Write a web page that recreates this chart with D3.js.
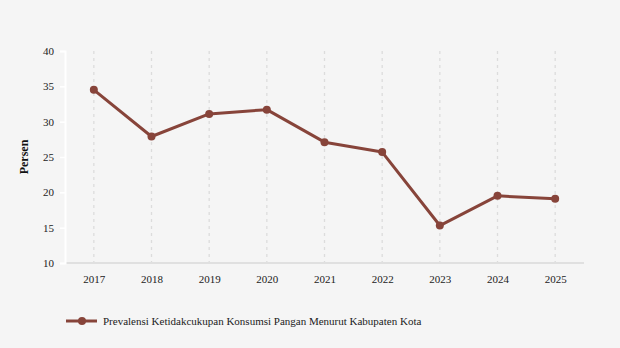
<!DOCTYPE html>
<html>
<head>
<meta charset="utf-8">
<script src="https://cdn.jsdelivr.net/npm/d3@7"></script>
<style>
  html, body { margin: 0; padding: 0; background: #f5f5f5; }
  svg { display: block; }
  text { font-family: "Liberation Serif", "Times New Roman", serif; }
</style>
</head>
<body>
<svg id="chart" width="620" height="348"></svg>
<script>
const years = ["2017", "2018", "2019", "2020", "2021", "2022", "2023", "2024", "2025"];
const values = [34.5, 27.9, 31.1, 31.7, 27.1, 25.7, 15.3, 19.5, 19.1];
const yTicks = [10, 15, 20, 25, 30, 35, 40];
const seriesName = "Prevalensi Ketidakcukupan Konsumsi Pangan Menurut Kabupaten Kota";

const color = "#87443a";
const svg = d3.select("#chart");
svg.append("rect").attr("width", 620).attr("height", 348).attr("fill", "#f5f5f5");

const margin = { left: 65, right: 36, top: 51, bottom: 85 };
const W = 620, H = 348;

const x = d3.scalePoint().domain(years).range([margin.left, W - margin.right]).padding(0.5);
const y = d3.scaleLinear().domain([10, 40]).range([H - margin.bottom, margin.top]);

// vertical dashed grid at each year
svg.append("g").selectAll("line").data(years).join("line")
  .attr("x1", d => x(d)).attr("x2", d => x(d))
  .attr("y1", y(40)).attr("y2", y(10))
  .attr("stroke", "#dcdcdc").attr("stroke-width", 1.3).attr("stroke-dasharray", "3,4");

// x axis baseline
const xAxis = svg.append("g").attr("transform", `translate(0,${y(10)})`)
  .call(d3.axisBottom(x).tickSize(0).tickPadding(12));
xAxis.select(".domain").attr("stroke", "#e0e0e0").attr("stroke-width", 2)
  .attr("d", `M${margin.left},0H${W - margin.right}`);
xAxis.selectAll("text").attr("font-size", 11).attr("fill", "#222")
  .attr("font-family", "Liberation Serif, serif");

// y axis
const yAxis = svg.append("g").attr("transform", `translate(${margin.left},0)`)
  .call(d3.axisLeft(y).tickValues(yTicks).tickSize(5).tickPadding(6));
yAxis.select(".domain").attr("stroke", "#ffffff").attr("stroke-width", 2);
yAxis.selectAll(".tick line").attr("stroke", "#ffffff").attr("stroke-width", 1.5);
yAxis.selectAll("text").attr("font-size", 11).attr("fill", "#222")
  .attr("font-family", "Liberation Serif, serif");

// y axis title
svg.append("text")
  .attr("transform", `translate(28,${(y(10) + y(40)) / 2}) rotate(-90)`)
  .attr("text-anchor", "middle")
  .attr("font-size", 12).attr("font-weight", "bold").attr("fill", "#111")
  .text("Persen");

// series line
const line = d3.line().x((d, i) => x(years[i])).y(d => y(d));
svg.append("path").datum(values)
  .attr("d", line).attr("fill", "none")
  .attr("stroke", color).attr("stroke-width", 3).attr("stroke-linejoin", "round");

svg.append("g").selectAll("circle").data(values).join("circle")
  .attr("cx", (d, i) => x(years[i])).attr("cy", d => y(d))
  .attr("r", 4).attr("fill", color);

// legend
const lg = svg.append("g").attr("transform", "translate(66,321)");
lg.append("line").attr("x1", 0).attr("x2", 31).attr("y1", 0).attr("y2", 0)
  .attr("stroke", color).attr("stroke-width", 3);
lg.append("circle").attr("cx", 16).attr("cy", 0).attr("r", 4).attr("fill", color);
lg.append("text").attr("x", 37).attr("y", 4)
  .attr("font-size", 11).attr("fill", "#222").text(seriesName);
</script>
</body>
</html>
